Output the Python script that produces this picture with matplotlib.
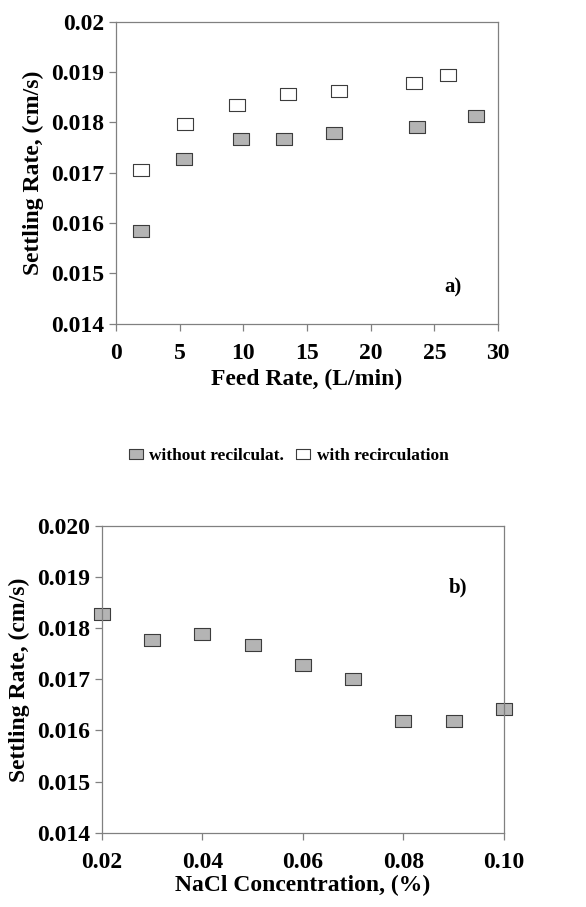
import matplotlib
matplotlib.use("Agg")
import matplotlib.pyplot as plt
from matplotlib.lines import Line2D

# panel a) settling rate vs feed rate
feed_without = [2.0, 5.3, 9.8, 13.2, 17.1, 23.6, 28.3]
rate_without = [0.01584, 0.01728, 0.01768, 0.01768, 0.01779, 0.01790, 0.01812]
feed_with = [2.0, 5.4, 9.5, 13.5, 17.5, 23.4, 26.1]
rate_with = [0.01706, 0.01797, 0.01834, 0.01856, 0.01862, 0.01879, 0.01895]

# panel b) settling rate vs NaCl concentration
nacl = [0.02, 0.03, 0.04, 0.05, 0.06, 0.07, 0.08, 0.09, 0.10]
rate_nacl = [0.01828, 0.01777, 0.01789, 0.01767, 0.01729, 0.01701, 0.01618, 0.01618, 0.01641]

yticks = [0.014, 0.015, 0.016, 0.017, 0.018, 0.019, 0.020]
ytick_labels_a = ["0.014", "0.015", "0.016", "0.017", "0.018", "0.019", "0.02"]
ytick_labels_b = ["0.014", "0.015", "0.016", "0.017", "0.018", "0.019", "0.020"]
xticks_a = [0, 5, 10, 15, 20, 25, 30]
xticks_b = [0.02, 0.04, 0.06, 0.08, 0.10]
xtick_labels_b = ["0.02", "0.04", "0.06", "0.08", "0.10"]

legend_labels = ["without recilculat.", "with recirculation"]

plt.rcParams['font.family'] = ['Liberation Serif', 'DejaVu Serif']
plt.rcParams['font.weight'] = 'bold'

SPINE = '#808080'
FILL = '#b4b4b4'
EDGE = '#3c3c3c'
# slightly wide rectangle marker
RECT = [(-1.0, -0.74), (1.0, -0.74), (1.0, 0.74), (-1.0, 0.74), (-1.0, -0.74)]


def style_axes(ax):
    for s in ax.spines.values():
        s.set_color(SPINE)
        s.set_linewidth(0.9)
    ax.tick_params(direction='out', length=5, width=0.9, color=SPINE,
                   labelsize=17, top=False, right=False)
    for lab in ax.get_xticklabels() + ax.get_yticklabels():
        lab.set_fontweight('bold')


fig = plt.figure(figsize=(5.86, 9.07), dpi=100)

ax1 = fig.add_axes([0.198, 0.643, 0.652, 0.333])
ax1.plot(feed_without, rate_without, linestyle='none', marker=RECT, ms=11,
         mfc=FILL, mec=EDGE, mew=0.8, clip_on=False)
ax1.plot(feed_with, rate_with, linestyle='none', marker=RECT, ms=11,
         mfc='white', mec=EDGE, mew=0.8, clip_on=False)
ax1.set_xlim(0, 30)
ax1.set_ylim(0.014, 0.020)
ax1.set_xticks(xticks_a)
ax1.set_yticks(yticks)
ax1.set_yticklabels(ytick_labels_a)
ax1.set_xlabel("Feed Rate, (L/min)", fontsize=17, fontweight='bold', labelpad=3)
ax1.set_ylabel("Settling Rate, (cm/s)", fontsize=17, fontweight='bold', labelpad=5)
ax1.text(25.8, 0.01472, "a)", fontsize=15, fontweight='bold', va='center')
style_axes(ax1)
ax1.tick_params(axis='x', pad=9)

ax2 = fig.add_axes([0.174, 0.082, 0.686, 0.338])
ax2.plot(nacl, rate_nacl, linestyle='none', marker=RECT, ms=11,
         mfc=FILL, mec=EDGE, mew=0.8, clip_on=False)
ax2.set_xlim(0.02, 0.10)
ax2.set_ylim(0.014, 0.020)
ax2.set_xticks(xticks_b)
ax2.set_xticklabels(xtick_labels_b)
ax2.set_yticks(yticks)
ax2.set_yticklabels(ytick_labels_b)
ax2.set_xlabel("NaCl Concentration, (%)", fontsize=17, fontweight='bold', labelpad=1)
ax2.set_ylabel("Settling Rate, (cm/s)", fontsize=17, fontweight='bold', labelpad=5)
ax2.text(0.089, 0.0188, "b)", fontsize=15, fontweight='bold', va='center')
style_axes(ax2)
ax2.tick_params(axis='x', pad=9)

handles = [
    Line2D([], [], linestyle='none', marker=RECT, ms=10, mfc=FILL, mec=EDGE, mew=0.8),
    Line2D([], [], linestyle='none', marker=RECT, ms=10, mfc='white', mec=EDGE, mew=0.8),
]
fig.legend(handles, legend_labels, loc='center', bbox_to_anchor=(0.49, 0.497),
           ncol=2, frameon=False, prop={'size': 12.5, 'weight': 'bold'},
           handletextpad=0.2, columnspacing=0.5, handlelength=1.2)

fig.savefig("out.png", dpi=100, facecolor='white')
